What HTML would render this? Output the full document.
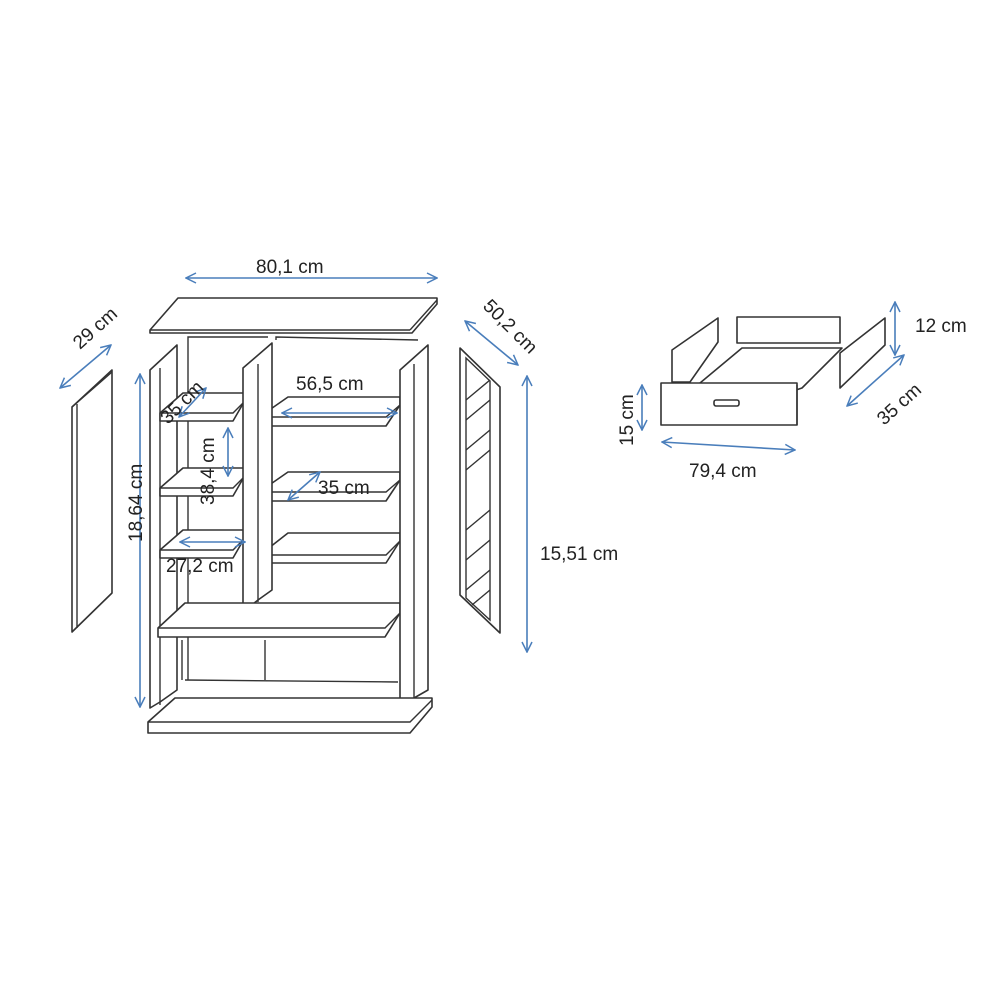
<!DOCTYPE html>
<html><head><meta charset="utf-8"><style>
html,body{margin:0;padding:0;background:#fff;}
svg{display:block;}
text{font-family:"Liberation Sans","DejaVu Sans",sans-serif;font-size:19px;fill:#222;}
.k{fill:#fff;stroke:#333;stroke-width:1.6;stroke-linejoin:round;}
.l{fill:none;stroke:#333;stroke-width:1.4;}
.a{fill:none;stroke:#4a7ebb;stroke-width:1.6;}
</style></head><body>
<svg width="1000" height="1000" viewBox="0 0 1000 1000" xmlns="http://www.w3.org/2000/svg">
<defs>
<marker id="m" viewBox="0 0 12 12" refX="11" refY="6" markerWidth="12" markerHeight="12" markerUnits="userSpaceOnUse" orient="auto-start-reverse">
<path d="M1,1 L11,6 L1,11" fill="none" stroke="#4a7ebb" stroke-width="1.5"/>
</marker>
</defs>

<!-- top panel -->
<polygon class="k" points="150,330 178,298 437,298 437,304 412,333 150,333"/>
<line class="l" x1="150" y1="330" x2="410" y2="330"/><line class="l" x1="410" y1="330" x2="437" y2="300"/>

<!-- back -->
<polyline class="l" points="188,680 188,337 268,337"/>
<polyline class="l" points="276,340 276,337 418,340"/>
<line class="l" x1="182" y1="640" x2="182" y2="680"/>
<line class="l" x1="185" y1="680" x2="398" y2="682"/>
<line class="l" x1="265" y1="640" x2="265" y2="680"/>

<!-- left side panel -->
<polygon class="k" points="150,370 177,345 177,690 160,702 150,708"/>
<line class="l" x1="160" y1="368" x2="160" y2="705"/>

<!-- left shelves -->
<g>
<polygon class="k" points="160,413 183,393 244,393 244,402 233,421 160,421"/><polyline class="l" points="160,413 233,413 244,402"/>
<polygon class="k" points="160,488 183,468 244,468 244,477 233,496 160,496"/><polyline class="l" points="160,488 233,488 244,477"/>
<polygon class="k" points="160,550 183,530 244,530 244,539 233,558 160,558"/><polyline class="l" points="160,550 233,550 244,539"/>
</g>
<!-- right shelves -->
<g>
<polygon class="k" points="265,413 288,397 400,397 400,405 386,426 265,426"/><polyline class="l" points="265,417 386,417 400,405"/>
<polygon class="k" points="265,488 288,472 400,472 400,480 386,501 265,501"/><polyline class="l" points="265,492 386,492 400,480"/>
<polygon class="k" points="265,551 288,533 400,533 400,541 386,563 265,563"/><polyline class="l" points="265,555 386,555 400,541"/>
</g>

<!-- middle divider -->
<polygon class="k" points="243,368 272,343 272,590 258,600 243,612"/>
<line class="l" x1="258" y1="364" x2="258" y2="602"/>

<!-- bottom big shelf -->
<polygon class="k" points="158,628 185,603 400,603 400,613 385,637 158,637"/>
<polyline class="l" points="158,628 385,628 400,613"/>

<!-- right side panel -->
<polygon class="k" points="400,370 428,345 428,690 414,698 400,705"/>
<line class="l" x1="414" y1="364" x2="414" y2="700"/>

<!-- plinth -->
<polygon class="k" points="148,722 175,698 432,698 432,707 410,733 148,733"/>
<polyline class="l" points="148,722 410,722 432,700"/>

<!-- left door -->
<polygon class="k" points="72,407 112,370 112,593 72,632"/>
<line class="l" x1="77" y1="404" x2="77" y2="628"/>
<line class="l" x1="72" y1="407" x2="112" y2="372"/>

<!-- right door -->
<polygon class="k" points="460,348 500,387 500,633 460,595"/>
<polygon class="l" points="466,358 490,381 490,620 466,598"/>
<g class="l" stroke-width="1">
<line x1="466" y1="400" x2="490" y2="380"/><line x1="466" y1="420" x2="490" y2="400"/>
<line x1="466" y1="450" x2="490" y2="430"/><line x1="466" y1="470" x2="490" y2="450"/>
<line x1="466" y1="530" x2="490" y2="510"/><line x1="466" y1="560" x2="490" y2="540"/>
<line x1="466" y1="590" x2="490" y2="570"/><line x1="472" y1="605" x2="490" y2="590"/>
</g>

<!-- drawer -->
<polygon class="k" points="672,382 672,350 718,318 718,342 690,382"/>
<rect class="k" x="737" y="317" width="103" height="26"/>
<polygon class="k" points="700,383 742,348 842,348 802,388 796,390 700,390"/>
<polygon class="k" points="840,388 840,353 885,318 885,345"/>
<rect class="k" x="661" y="383" width="136" height="42"/>
<line class="l" x1="797" y1="385" x2="797" y2="425"/>
<rect class="k" x="714" y="400" width="25" height="6" rx="2"/>

<!-- dimension arrows -->
<g class="a">
<line x1="186" y1="278" x2="437" y2="278" marker-start="url(#m)" marker-end="url(#m)"/>
<line x1="60" y1="388" x2="111" y2="345" marker-start="url(#m)" marker-end="url(#m)"/>
<line x1="140" y1="374" x2="140" y2="707" marker-start="url(#m)" marker-end="url(#m)"/>
<line x1="465" y1="321" x2="518" y2="365" marker-start="url(#m)" marker-end="url(#m)"/>
<line x1="527" y1="376" x2="527" y2="652" marker-start="url(#m)" marker-end="url(#m)"/>
<line x1="179" y1="417" x2="206" y2="388" marker-start="url(#m)" marker-end="url(#m)"/>
<line x1="228" y1="428" x2="228" y2="476" marker-start="url(#m)" marker-end="url(#m)"/>
<line x1="282" y1="413" x2="397" y2="413" marker-start="url(#m)" marker-end="url(#m)"/>
<line x1="288" y1="500" x2="320" y2="472" marker-start="url(#m)" marker-end="url(#m)"/>
<line x1="180" y1="542" x2="245" y2="542" marker-start="url(#m)" marker-end="url(#m)"/>
<line x1="642" y1="385" x2="642" y2="430" marker-start="url(#m)" marker-end="url(#m)"/>
<line x1="662" y1="442" x2="795" y2="450" marker-start="url(#m)" marker-end="url(#m)"/>
<line x1="895" y1="302" x2="895" y2="355" marker-start="url(#m)" marker-end="url(#m)"/>
<line x1="847" y1="406" x2="904" y2="355" marker-start="url(#m)" marker-end="url(#m)"/>
</g>

<!-- labels -->
<text x="256" y="273">80,1 cm</text>
<text transform="translate(80,350) rotate(-42)">29 cm</text>
<text transform="translate(142,542) rotate(-90)">18,64 cm</text>
<text transform="translate(482,307) rotate(45)">50,2 cm</text>
<text x="540" y="560">15,51 cm</text>
<text transform="translate(168,425) rotate(-45)">35 cm</text>
<text transform="translate(214,505) rotate(-90)">38,4 cm</text>
<text x="296" y="390">56,5 cm</text>
<text x="318" y="494">35 cm</text>
<text x="166" y="572">27,2 cm</text>
<text transform="translate(633,446) rotate(-90)">15 cm</text>
<text x="689" y="477">79,4 cm</text>
<text x="915" y="332">12 cm</text>
<text transform="translate(884,426) rotate(-42)">35 cm</text>
</svg>
</body></html>
